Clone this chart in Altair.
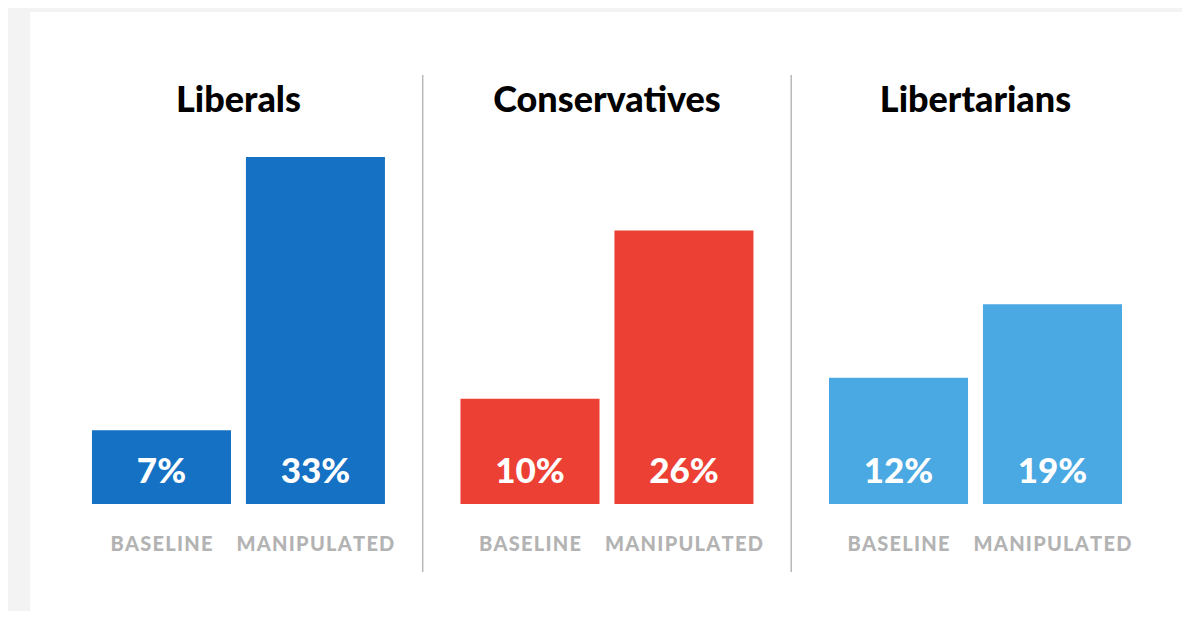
import altair as alt
import pandas as pd

groups = ["Liberals", "Conservatives", "Libertarians"]
conditions = ["Baseline", "Manipulated"]
baseline = [7, 10, 12]
manipulated = [33, 26, 19]
colors = ["#1571c3", "#ec4034", "#4aa8e2"]

rows = []
for g, b, m in zip(groups, baseline, manipulated):
    rows.append({"group": g, "condition": conditions[0], "value": b})
    rows.append({"group": g, "condition": conditions[1], "value": m})
df = pd.DataFrame(rows)

FONT = "Lato"

x = alt.X("group:N", sort=groups, axis=None,
          scale=alt.Scale(paddingInner=0.205, paddingOuter=0.1655, align=0.508, round=False))
xo = alt.XOffset("condition:N", sort=conditions,
                 scale=alt.Scale(paddingInner=0.097, paddingOuter=0, round=False))
yscale = alt.Scale(domain=[-10.18, 46.79], nice=False, zero=False)

base = alt.Chart(df)

bars = base.mark_bar().encode(
    x=x, xOffset=xo,
    y=alt.Y("value:Q", scale=yscale, axis=None),
    y2=alt.datum(0),
    color=alt.Color("group:N", scale=alt.Scale(domain=groups, range=colors), legend=None),
)

pct = base.transform_calculate(label="datum.value + '%'").mark_text(
    font=FONT, fontWeight=900, fontSize=35, color="white", dy=-32, baseline="middle"
).encode(x=x, xOffset=xo, y=alt.datum(0), text="label:N")

cats = base.transform_calculate(
    lab="join(split(upper(datum.condition), ''), '\u200a')"
).mark_text(
    font=FONT, fontWeight=900, fontSize=20, color="#b3b3b3", baseline="middle"
).encode(x=x, xOffset=xo, y=alt.value(533), text="lab:N")

titles = base.transform_filter("datum.condition == 'Baseline'").mark_text(
    font=FONT, fontWeight=900, fontSize=36, color="black", baseline="middle"
).encode(x=x, y=alt.value(89), text="group:N")

rules = base.transform_filter(
    "datum.condition == 'Baseline' && datum.group != 'Libertarians'"
).mark_rule(color="#b8b8b8", strokeWidth=1.5, xOffset=184.25).encode(
    x=x, y=alt.value(63), y2=alt.value(560)
)

chart = alt.layer(bars, pct, cats, titles, rules).properties(
    width=1152, height=599,
    padding={"left": 22, "top": 4, "right": 0, "bottom": 0},
    background="#f3f3f3",
).configure_view(fill="white", stroke=None)

chart.save("out.html", embed_options={"renderer": "svg", "actions": False})
